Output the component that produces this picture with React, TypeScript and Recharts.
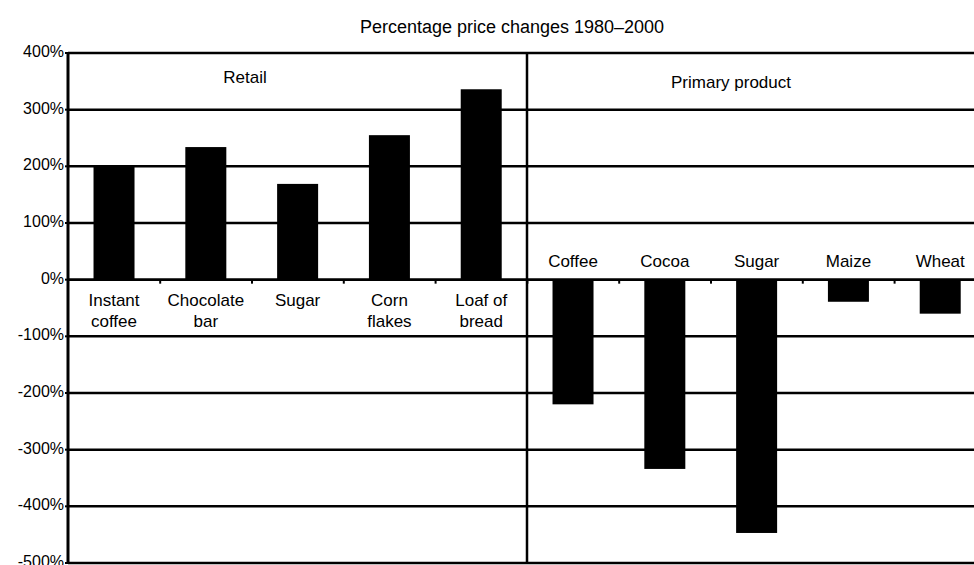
import React from 'react';
import { BarChart, Bar, XAxis, YAxis, CartesianGrid, ReferenceLine } from 'recharts';

const categoryKeys = ['k0', 'k1', 'k2', 'k3', 'k4', 'k5', 'k6', 'k7', 'k8', 'k9'];
const categoryLines: string[][] = [
  ['Instant', 'coffee'],
  ['Chocolate', 'bar'],
  ['Sugar'],
  ['Corn', 'flakes'],
  ['Loaf of', 'bread'],
  ['Coffee'],
  ['Cocoa'],
  ['Sugar'],
  ['Maize'],
  ['Wheat'],
];
const retailValues = [200, 234, 169, 255, 336];
const primaryValues = [-220, -334, -447, -39, -60];
const yTicks = [400, 300, 200, 100, 0, -100, -200, -300, -400, -500];

const title = 'Percentage price changes 1980\u20132000';
const retailLabel = 'Retail';
const primaryLabel = 'Primary product';

const allValues = [...retailValues, ...primaryValues];
const data = categoryKeys.map((k, i) => ({ key: k, value: allValues[i] }));

const FONT = '"Liberation Sans", Arial, Helvetica, sans-serif';
const GAP = 0.278;

const BarShape = (props: any) => {
  const { x, y, width, height, index } = props;
  const v = allValues[index];
  const top = Math.min(y, y + height);
  const h = Math.abs(height);
  const zeroY = v >= 0 ? top + h : top;
  const cx = x + width / 2;
  const band = width / (1 - 2 * GAP);
  const lines = categoryLines[index];
  const tickX = cx + band / 2;
  return (
    <g>
      <rect x={x} y={top} width={width} height={h} fill="#000" />
      {index < categoryKeys.length - 1 && (
        <line x1={tickX} x2={tickX} y1={zeroY} y2={zeroY + 4} stroke="#000" strokeWidth={2} />
      )}
      {v >= 0
        ? lines.map((t, i) => (
            <text key={i} x={cx} y={zeroY + 26 + i * 21} textAnchor="middle" fontSize={17} fontFamily={FONT} fill="#000">
              {t}
            </text>
          ))
        : lines.map((t, i) => (
            <text key={i} x={cx} y={zeroY - 13} textAnchor="middle" fontSize={17} fontFamily={FONT} fill="#000">
              {t}
            </text>
          ))}
    </g>
  );
};

const YTick = (props: any) => {
  const { x, y, payload } = props;
  return (
    <text x={x} y={y + 4} textAnchor="end" fontSize={16} fontFamily={FONT} fill="#000">
      {payload.value + '%'}
    </text>
  );
};

export default function App() {
  return (
    <div style={{ position: 'absolute', left: 0, top: 0, width: 974, height: 565, overflow: 'hidden', background: '#fff' }}>
      <BarChart
        width={986}
        height={570}
        data={data}
        margin={{ top: 53, right: 0, bottom: 7, left: 0 }}
        barCategoryGap={`${GAP * 100}%`}
      >
        <CartesianGrid vertical={false} stroke="#000" strokeWidth={2.5} />
        <XAxis dataKey="key" hide />
        <YAxis
          width={68}
          domain={[-500, 400]}
          ticks={yTicks}
          interval={0}
          axisLine={{ stroke: '#000', strokeWidth: 3 }}
          tickLine={{ stroke: '#000', strokeWidth: 2 }}
          tickSize={3}
          tickMargin={1}
          tick={<YTick />}
        />
        <ReferenceLine y={0} stroke="#000" strokeWidth={2.5} />
        <ReferenceLine x="k5" position="start" stroke="#000" strokeWidth={2.5} />
        <Bar dataKey="value" fill="#000" isAnimationActive={false} shape={<BarShape />} />
      </BarChart>
      <svg width={974} height={565} style={{ position: 'absolute', left: 0, top: 0, pointerEvents: 'none' }}>
        <text x={512} y={33} textAnchor="middle" fontSize={18} fontFamily={FONT} fill="#000">{title}</text>
        <text x={245} y={83} textAnchor="middle" fontSize={17} fontFamily={FONT} fill="#000">{retailLabel}</text>
        <text x={731} y={88} textAnchor="middle" fontSize={17} fontFamily={FONT} fill="#000">{primaryLabel}</text>
      </svg>
    </div>
  );
}
